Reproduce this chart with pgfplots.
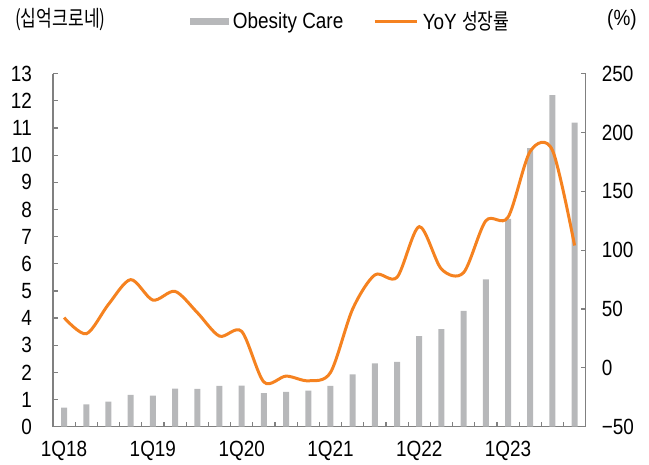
\documentclass[border=0pt]{standalone}
\usepackage{fontspec}
\setmainfont{Liberation Sans}[FakeStretch=0.86]
\newfontfamily\kr{Noto Sans CJK KR}[FakeStretch=0.78]
\usepackage{pgfplots}
\pgfplotsset{compat=1.18}

\definecolor{barGray}{RGB}{183,184,186}
\definecolor{lineOrange}{RGB}{245,130,32}
\definecolor{axisGray}{RGB}{128,128,128}

\newcommand{\lblfont}{\fontsize{22bp}{26bp}\selectfont}

\begin{document}
\begin{tikzpicture}
\pgfplotsset{
  common/.style={
    scale only axis, width=532.7bp, height=353bp,
    xmin=-0.5, xmax=23.5,
    axis line style={draw=axisGray, line width=1.5bp},
    tick style={draw=axisGray, line width=1.2bp},
    tick align=inside, major tick length=5bp,
    tick label style={font=\lblfont, inner sep=0pt},
    /pgf/number format/assume math mode=true,
  }
}
% bars: Obesity Care (DKK bn)
\begin{axis}[common,
  ymin=0, ymax=13,
  axis y line*=left, axis x line*=bottom,
  ytick={0,1,...,13},
  yticklabel style={anchor=east, xshift=-21bp},
  xtick={-0.5,0.5,...,23.5}, xticklabels={},
  extra x ticks={0,4,8,12,16,20},
  extra x tick labels={1Q18,1Q19,1Q20,1Q21,1Q22,1Q23},
  extra x tick style={major tick length=0pt},
  xticklabel style={anchor=base, yshift=-29.5bp},
]
\addplot[ybar, bar width=6bp, fill=barGray, draw=none] coordinates {
  (0,0.70) (1,0.82) (2,0.92) (3,1.17) (4,1.14) (5,1.40)
  (6,1.39) (7,1.50) (8,1.51) (9,1.24) (10,1.28) (11,1.33)
  (12,1.50) (13,1.93) (14,2.33) (15,2.39) (16,3.34) (17,3.59)
  (18,4.27) (19,5.43) (20,7.65) (21,10.26) (22,12.21) (23,11.20)
};
\end{axis}
% line: YoY growth (%)
\begin{axis}[common,
  ymin=-50, ymax=250,
  axis y line*=right, axis x line=none,
  ytick={-50,0,50,100,150,200,250},
  yticklabels={−50,0,50,100,150,200,250},
  yticklabel style={anchor=west, xshift=16bp},
  legend columns=2,
  legend style={at={(0.2572,1.149)}, anchor=west, draw=none, fill=none,
    inner sep=0pt, outer sep=0pt, font=\lblfont,
    nodes={inner sep=0pt},
    /tikz/every odd column/.append style={column sep=4.5bp},
    /tikz/every even column/.append style={column sep=30bp}},
]
\addlegendimage{legend image code/.code={\fill[barGray] (0bp,-3.3bp) rectangle (38bp,3.3bp);}}
\addlegendentry{Obesity Care}
\addplot[lineOrange, line width=3bp, smooth, tension=0.5,
  legend image code/.code={\draw[lineOrange, line width=3bp] (0bp,0bp) -- (42bp,0bp);}]
  coordinates {
  (0,42.7) (1,29) (2,54) (3,75) (4,57.6) (5,65)
  (6,47) (7,27) (8,31) (9,-12) (10,-7) (11,-11)
  (12,-4) (13,50) (14,79) (15,77) (16,120) (17,84)
  (18,81) (19,125) (20,128) (21,184) (22,185) (23,104)
};
\addlegendentry{YoY {\kr 성장률}}
\end{axis}
\node[anchor=west, inner sep=0pt] at (-38bp,406.7bp) {\kr\fontsize{22bp}{26bp}\selectfont (십억크로네)};
\node[anchor=west, inner sep=0pt] at (554bp,406.7bp) {\lblfont (\%)};
\pgfresetboundingbox
\useasboundingbox (-53bp,-38.3bp) rectangle (596bp,426.7bp);
\end{tikzpicture}
\end{document}
